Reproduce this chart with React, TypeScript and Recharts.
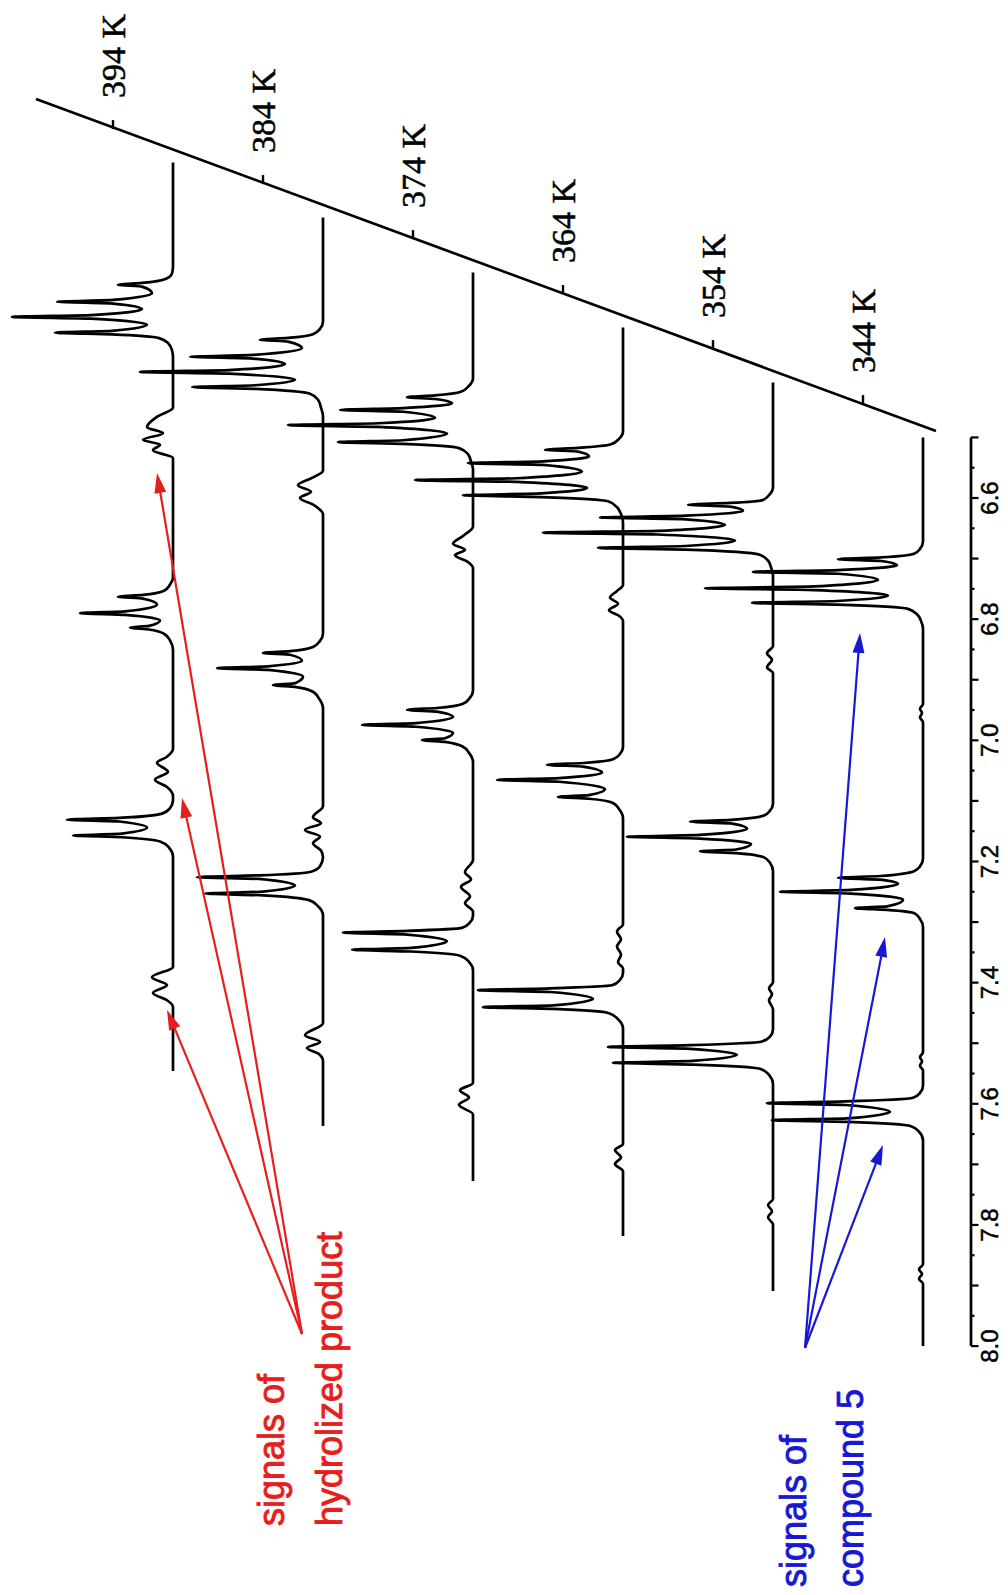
import React from 'react';
import { ComposedChart, Line, XAxis, YAxis, ReferenceLine, ReferenceDot } from 'recharts';

// ---------- data (ppm, intensity) ----------
const temperatures = ['344 K', '354 K', '364 K', '374 K', '384 K', '394 K'];

const spectrum344: [number, number][] = [
  [6.5, 0], [6.672, 0], [6.684, 3], [6.692, 9],
  [6.698, 42], [6.701, 85], [6.704, 42], [6.711, 26],
  [6.719, 85], [6.722, 170], [6.725, 85], [6.735, 45],
  [6.746, 109], [6.749, 218], [6.752, 109], [6.761, 35],
  [6.770, 86], [6.773, 171], [6.776, 86],
  [6.783, 15], [6.792, 6], [6.803, 2], [6.815, 0],
  [6.94, 0], [6.948, 3], [6.955, 1], [6.962, 3], [6.97, 0],
  [7.195, 0], [7.208, 3], [7.216, 9],
  [7.224, 43], [7.227, 85], [7.23, 43], [7.237, 25],
  [7.247, 72], [7.25, 143], [7.253, 72], [7.263, 20],
  [7.274, 36], [7.277, 68], [7.28, 36],
  [7.286, 8], [7.295, 3], [7.308, 0],
  [7.515, 0], [7.523, 3], [7.53, 1], [7.537, 3], [7.545, 0],
  [7.57, 0], [7.582, 3], [7.59, 10],
  [7.596, 78], [7.599, 156], [7.602, 78], [7.613, 33],
  [7.624, 76], [7.627, 151], [7.63, 76],
  [7.637, 12], [7.646, 4], [7.66, 0],
  [7.865, 0], [7.873, 4], [7.881, 1], [7.889, 4], [7.897, 0],
  [8.0, 0],
];

const spectrum354: [number, number][] = [
  [6.5, 0], [6.673, 0], [6.686, 4], [6.694, 10],
  [6.699, 43], [6.702, 85], [6.705, 43], [6.712, 30],
  [6.72, 87], [6.723, 173], [6.726, 87], [6.735, 48],
  [6.745, 115], [6.748, 230], [6.751, 115], [6.761, 38],
  [6.77, 88], [6.773, 175], [6.776, 88],
  [6.784, 14], [6.794, 5], [6.805, 2], [6.818, 0],
  [6.935, 0], [6.947, 6], [6.958, 1], [6.97, 6], [6.98, 0],
  [7.195, 0], [7.207, 3], [7.215, 9],
  [7.222, 42], [7.225, 83], [7.228, 42], [7.237, 26],
  [7.247, 73], [7.25, 146], [7.253, 73], [7.262, 22],
  [7.271, 37], [7.274, 73], [7.277, 37],
  [7.284, 9], [7.293, 3], [7.307, 0],
  [7.49, 0], [7.5, 4], [7.51, 1], [7.52, 4], [7.535, 0],
  [7.568, 0], [7.58, 3], [7.588, 11],
  [7.594, 83], [7.597, 165], [7.6, 83], [7.61, 36],
  [7.62, 80], [7.623, 160], [7.626, 80],
  [7.633, 13], [7.643, 4], [7.658, 0],
  [7.848, 0], [7.858, 5], [7.868, 1], [7.878, 5], [7.89, 0],
  [8.0, 0],
];

const spectrum364: [number, number][] = [
  [6.5, 0], [6.672, 0], [6.684, 4], [6.693, 12],
  [6.699, 45], [6.702, 78], [6.705, 45], [6.713, 34],
  [6.721, 80], [6.724, 155], [6.727, 80], [6.738, 41],
  [6.749, 106], [6.752, 208], [6.755, 106], [6.765, 36],
  [6.774, 82], [6.777, 160], [6.78, 82],
  [6.787, 15], [6.797, 6], [6.808, 2], [6.822, 0],
  [6.925, 0], [6.935, 6], [6.946, 13], [6.956, 5], [6.967, 14], [6.976, 4], [6.985, 0],
  [7.192, 0], [7.204, 3], [7.213, 10],
  [7.219, 40], [7.222, 76], [7.225, 40], [7.235, 21],
  [7.244, 64], [7.247, 126], [7.25, 64], [7.262, 18],
  [7.272, 34], [7.275, 65], [7.278, 34],
  [7.285, 10], [7.295, 4], [7.31, 0],
  [7.485, 0], [7.497, 6], [7.51, 2], [7.522, 6], [7.535, 2], [7.548, 5], [7.558, 0],
  [7.566, 0], [7.577, 3], [7.586, 11],
  [7.591, 73], [7.594, 145], [7.597, 73], [7.608, 30],
  [7.619, 70], [7.622, 140], [7.625, 70],
  [7.632, 14], [7.642, 5], [7.657, 0],
  [7.848, 0], [7.858, 8], [7.87, 2], [7.881, 8], [7.893, 0],
  [8.0, 0],
];

const spectrum374: [number, number][] = [
  [6.5, 0], [6.675, 0], [6.687, 4], [6.697, 12],
  [6.703, 38], [6.706, 66], [6.709, 38], [6.716, 21],
  [6.724, 70], [6.727, 133], [6.73, 70], [6.74, 38],
  [6.749, 95], [6.752, 185], [6.755, 95], [6.766, 26],
  [6.777, 70], [6.78, 135], [6.783, 70],
  [6.79, 14], [6.8, 5], [6.812, 2], [6.825, 0],
  [6.92, 0], [6.935, 10], [6.948, 20], [6.958, 8], [6.967, 18], [6.977, 6], [6.988, 0],
  [7.19, 0], [7.202, 3], [7.212, 10],
  [7.219, 36], [7.222, 66], [7.225, 36], [7.234, 20],
  [7.244, 57], [7.247, 111], [7.25, 57], [7.26, 20],
  [7.269, 28], [7.272, 51], [7.275, 28],
  [7.283, 10], [7.293, 4], [7.308, 0],
  [7.47, 0], [7.49, 8], [7.502, 2], [7.514, 12], [7.53, 3], [7.541, 8], [7.555, 0],
  [7.562, 0], [7.573, 3], [7.582, 11],
  [7.587, 66], [7.59, 130], [7.593, 66], [7.604, 26],
  [7.615, 62], [7.618, 121], [7.621, 62],
  [7.628, 13], [7.638, 4], [7.652, 0],
  [7.838, 0], [7.85, 13], [7.862, 4], [7.874, 14], [7.89, 0],
  [8.0, 0],
];

const spectrum384: [number, number][] = [
  [6.5, 0], [6.672, 0], [6.684, 3], [6.693, 10],
  [6.699, 35], [6.702, 63], [6.705, 35], [6.716, 21],
  [6.727, 70], [6.73, 133], [6.733, 70], [6.742, 38],
  [6.752, 94], [6.755, 183], [6.758, 94], [6.768, 28],
  [6.777, 68], [6.78, 131], [6.783, 68],
  [6.791, 13], [6.801, 5], [6.814, 2], [6.828, 0],
  [6.918, 0], [6.93, 11], [6.942, 25], [6.953, 12], [6.963, 23], [6.975, 9], [6.99, 0],
  [7.187, 0], [7.199, 3], [7.209, 10],
  [7.216, 33], [7.219, 60], [7.222, 33], [7.232, 21],
  [7.241, 55], [7.244, 106], [7.247, 55], [7.258, 20],
  [7.269, 28], [7.272, 50], [7.275, 28],
  [7.283, 10], [7.294, 4], [7.31, 0],
  [7.472, 0], [7.49, 10], [7.5, 2], [7.511, 18], [7.522, 3], [7.533, 10], [7.545, 2], [7.556, 0],
  [7.571, 3], [7.58, 12],
  [7.586, 64], [7.589, 126], [7.592, 64], [7.603, 28],
  [7.613, 60], [7.616, 118], [7.619, 60],
  [7.627, 14], [7.637, 5], [7.652, 0],
  [7.83, 0], [7.85, 18], [7.861, 3], [7.871, 16], [7.88, 5], [7.892, 0],
  [8.0, 0],
];

const spectrum394: [number, number][] = [
  [6.5, 0], [6.672, 0], [6.683, 1], [6.692, 7],
  [6.699, 31], [6.702, 55], [6.705, 31], [6.716, 21],
  [6.727, 60], [6.73, 116], [6.733, 60], [6.742, 31],
  [6.752, 82], [6.755, 161], [6.758, 82], [6.768, 26],
  [6.778, 61], [6.781, 118], [6.784, 61],
  [6.79, 14], [6.798, 5], [6.81, 1], [6.822, 0],
  [6.905, 0], [6.92, 16], [6.937, 26], [6.947, 10], [6.958, 30], [6.966, 13], [6.975, 20], [6.988, 0],
  [7.185, 0], [7.197, 3], [7.207, 9],
  [7.214, 30], [7.217, 55], [7.22, 30], [7.23, 16],
  [7.241, 48], [7.244, 93], [7.247, 48], [7.256, 13],
  [7.265, 24], [7.268, 43], [7.271, 24],
  [7.278, 9], [7.289, 3], [7.305, 0],
  [7.468, 0], [7.481, 6], [7.491, 16], [7.506, 5], [7.519, 18], [7.531, 6], [7.546, 0],
  [7.553, 0], [7.566, 3], [7.575, 11],
  [7.582, 54], [7.585, 106], [7.588, 54], [7.598, 26],
  [7.608, 51], [7.611, 100], [7.614, 51],
  [7.621, 13], [7.631, 4], [7.646, 0],
  [7.828, 0], [7.845, 21], [7.858, 6], [7.871, 20], [7.883, 6], [7.894, 0],
  [8.0, 0],
];

const spectra = [spectrum344, spectrum354, spectrum364, spectrum374, spectrum384, spectrum394];

const ppmTicks = [
  6.5, 6.55, 6.6, 6.65, 6.7, 6.75, 6.8, 6.85, 6.9, 6.95, 7.0, 7.05, 7.1, 7.15, 7.2, 7.25,
  7.3, 7.35, 7.4, 7.45, 7.5, 7.55, 7.6, 7.65, 7.7, 7.75, 7.8, 7.85, 7.9, 7.95, 8.0,
];
const ppmTickLabels = ['6.6', '6.8', '7.0', '7.2', '7.4', '7.6', '7.8', '8.0'];

// temperature axis: tick point in each spectrum's own frame, and the diagonal line in the front frame
const tempTickPoint = { ppm: 6.445, level: 60 };
const tempAxisLine = [{ x: 6.4894, y: -13 }, { x: 5.9414, y: 887 }];
const ppmAxisLine = [{ x: 6.5, y: -48 }, { x: 8.0, y: -48 }];

// annotation arrows (front frame: ppm, intensity)
const redOrigin = { x: 7.98, y: 621 };
const redTargets = [{ x: 6.5587, y: 766 }, { x: 7.0952, y: 741 }, { x: 7.4452, y: 756 }];
const blueOrigin = { x: 8.0031, y: 118 };
const blueTargets = [{ x: 6.8228, y: 63 }, { x: 7.3247, y: 38 }, { x: 7.668, y: 40 }];
const redText = ['signals of', 'hydrolized product'];
const blueText = ['signals of', 'compound 5'];

// ---------- layout ----------
const W = 1595;
const H = 1008;
const AXIS_H = 37;
const X_DOMAIN: [number, number] = [5.77795, 8.41083];
const Y_DOMAIN: [number, number] = [-48, 923];
const STEP_PPM = 0.09079;
const STEP_INT = 150;
const RED = '#e61e1e';
const BLUE = '#1818d4';
const SANS = "'Liberation Sans', Arial, Helvetica, sans-serif";
const SERIF = "'Liberation Serif', 'Times New Roman', serif";

const rows = spectra.map((s) => s.map(([ppm, i]) => ({ ppm, i })));

const PpmTick = (props: any) => {
  const { x, y, payload } = props;
  const v: number = payload.value;
  const major = Math.abs(v * 10 - Math.round(v * 10)) < 1e-6;
  const lbl = ppmTickLabels.find((t) => Math.abs(parseFloat(t) - v) < 1e-6);
  return (
    <g>
      <line x1={x} y1={y} x2={x} y2={y + (major ? 7.5 : 3.5)} stroke="#000" strokeWidth={2.2} />
      {lbl && (
        <text x={x} y={y + 27} textAnchor="middle" fontFamily={SANS} fontSize={24} fill="#000"
          stroke="#000" strokeWidth={0.5}>
          {lbl}
        </text>
      )}
    </g>
  );
};

const Arrow = (props: any) => {
  const { x1, y1, x2, y2, color } = props;
  const dx = x2 - x1;
  const dy = y2 - y1;
  const L = Math.hypot(dx, dy) || 1;
  const ux = dx / L;
  const uy = dy / L;
  const hl = 20;
  const hw = 6;
  const bx = x2 - ux * hl;
  const by = y2 - uy * hl;
  return (
    <g>
      <line x1={x1} y1={y1} x2={bx + ux * 2} y2={by + uy * 2} stroke={color} strokeWidth={2.2} />
      <polygon
        points={`${x2},${y2} ${bx - uy * hw},${by + ux * hw} ${bx + uy * hw},${by - ux * hw}`}
        fill={color}
      />
    </g>
  );
};

export default function App() {
  return (
    <div
      style={{
        position: 'absolute', left: 0, top: 0, width: 1008, height: 1595,
        overflow: 'hidden', background: '#fff',
      }}
    >
      <div
        style={{
          position: 'absolute', left: 0, top: 0, width: W, height: H,
          transformOrigin: '0 0', transform: `translate(0px, ${W}px) rotate(-90deg)`,
        }}
      >
        <ComposedChart width={W} height={H} margin={{ top: 0, right: 0, bottom: 0, left: 0 }}>
          {rows.map((_, k) =>
            k === 0 ? (
              <XAxis
                key={'x' + k}
                xAxisId={'x' + k}
                type="number"
                dataKey="ppm"
                domain={[X_DOMAIN[0], X_DOMAIN[1]]}
                reversed
                height={AXIS_H}
                axisLine={false}
                tickLine={false}
                tickSize={0}
                tickMargin={0}
                ticks={ppmTicks}
                interval={0}
                tick={(p: any) => <PpmTick {...p} />}
              />
            ) : (
              <XAxis
                key={'x' + k}
                xAxisId={'x' + k}
                type="number"
                dataKey="ppm"
                domain={[X_DOMAIN[0] + k * STEP_PPM, X_DOMAIN[1] + k * STEP_PPM]}
                reversed
                hide
              />
            )
          )}
          {rows.map((_, k) => (
            <YAxis
              key={'y' + k}
              yAxisId={'y' + k}
              type="number"
              domain={[Y_DOMAIN[0] - k * STEP_INT, Y_DOMAIN[1] - k * STEP_INT]}
              hide
            />
          ))}
          {rows.map((r, k) => (
            <Line
              key={'s' + k}
              data={r}
              dataKey="i"
              xAxisId={'x' + k}
              yAxisId={'y' + k}
              type="monotone"
              stroke="#000"
              strokeWidth={2.7}
              dot={false}
              activeDot={false}
              isAnimationActive={false}
            />
          ))}
          <ReferenceLine xAxisId="x0" yAxisId="y0" segment={ppmAxisLine} stroke="#000" strokeWidth={2.7} ifOverflow="visible" />
          <ReferenceLine xAxisId="x0" yAxisId="y0" segment={tempAxisLine} stroke="#000" strokeWidth={2.7} ifOverflow="visible" />
          {temperatures.map((t, k) => (
            <ReferenceDot
              key={'t' + k}
              xAxisId={'x' + k}
              yAxisId={'y' + k}
              x={tempTickPoint.ppm}
              y={tempTickPoint.level}
              ifOverflow="visible"
              shape={(p: any) => (
                <g>
                  <line x1={p.cx} y1={p.cy} x2={p.cx + 9} y2={p.cy} stroke="#000" strokeWidth={2.4} />
                  <text x={p.cx + 31} y={p.cy + 12} fontFamily={SERIF} fontSize={34} fill="#000"
                    stroke="#000" strokeWidth={0.5}>
                    {t}
                  </text>
                </g>
              )}
            />
          ))}
          {redTargets.map((tg, i) => (
            <ReferenceLine
              key={'ra' + i}
              xAxisId="x0"
              yAxisId="y0"
              segment={[redOrigin, tg]}
              ifOverflow="visible"
              shape={(p: any) => <Arrow {...p} color={RED} />}
            />
          ))}
          {blueTargets.map((tg, i) => (
            <ReferenceLine
              key={'ba' + i}
              xAxisId="x0"
              yAxisId="y0"
              segment={[blueOrigin, tg]}
              ifOverflow="visible"
              shape={(p: any) => <Arrow {...p} color={BLUE} />}
            />
          ))}
        </ComposedChart>
        <svg width={W} height={H} style={{ position: 'absolute', left: 0, top: 0, pointerEvents: 'none' }}>
          <g fontFamily={SANS} fontSize={36} strokeWidth={0.9}>
            <text x={69} y={284} fill={RED} stroke={RED}>{redText[0]}</text>
            <text x={69} y={342} fill={RED} stroke={RED}>{redText[1]}</text>
            <text x={8} y={806} fill={BLUE} stroke={BLUE}>{blueText[0]}</text>
            <text x={8} y={863} fill={BLUE} stroke={BLUE}>{blueText[1]}</text>
          </g>
        </svg>
      </div>
    </div>
  );
}
